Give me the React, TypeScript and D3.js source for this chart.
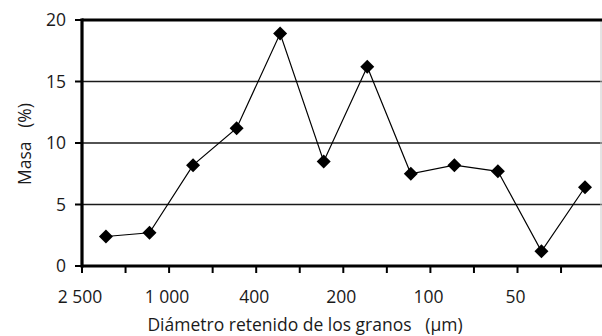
import React from "react";
import * as d3 from "d3";

// Sieve openings (µm) bounding each size fraction; only every other one is labelled
const sieveLabels = ["2 500", "", "1 000", "", "400", "", "200", "", "100", "", "50", "", ""];
// Mass retained in each fraction (%), coarse to fine
const massPct = [2.4, 2.7, 8.2, 11.2, 18.9, 8.5, 16.2, 7.5, 8.2, 7.7, 1.2, 6.4];
const yTicks = [0, 5, 10, 15, 20];

const W = 602;
const H = 336;
const left = 82;
const right = 604.6;
const top = 20;
const bottom = 266;
const FONT = "'Open Sans', 'Noto Sans', sans-serif";
const FS = 17.5;

export default function App() {
  const x = d3.scaleLinear().domain([0, sieveLabels.length - 1]).range([left, right]);
  const y = d3.scaleLinear().domain([0, 20]).range([bottom, top]);
  const px = (i: number) => x(i + 0.55);

  const line = d3
    .line<number>()
    .x((_, i) => px(i))
    .y((d) => y(d));

  // square turned 45° gives an even diamond marker
  const marker = d3.symbol(d3.symbolSquare, 98)() as string;

  return (
    <div style={{ position: "fixed", left: 0, top: 0 }}>
      <svg width={W} height={H} style={{ display: "block", background: "#fff" }}>
        {/* horizontal gridlines */}
        {yTicks.slice(1, -1).map((t) => (
          <line key={t} x1={left} x2={W} y1={y(t)} y2={y(t)} stroke="#1a1a1a" strokeWidth={1.4} />
        ))}
        {/* plot frame */}
        <line x1={601} x2={601} y1={top} y2={bottom} stroke="#c8c8c8" strokeWidth={1} />
        <line x1={left} x2={W} y1={top} y2={top} stroke="#000" strokeWidth={3.2} />
        <line x1={left} x2={left} y1={top - 1.6} y2={bottom + 1.6} stroke="#000" strokeWidth={3.2} />
        <line x1={left} x2={W} y1={bottom} y2={bottom} stroke="#000" strokeWidth={3.2} />

        {/* y ticks and labels */}
        {yTicks.map((t) => (
          <g key={t}>
            <line x1={left - 7} x2={left} y1={y(t)} y2={y(t)} stroke="#000" strokeWidth={2} />
            <text
              x={66}
              y={y(t)}
              dy="0.36em"
              textAnchor="end"
              fontFamily={FONT}
              fontSize={FS}
              fill="#1a1a1a"
            >
              {t}
            </text>
          </g>
        ))}

        {/* x ticks and sieve labels */}
        {sieveLabels.map((lab, i) => (
          <g key={i}>
            <line x1={x(i)} x2={x(i)} y1={bottom} y2={bottom + 7} stroke="#000" strokeWidth={2} />
            {lab && (
              <text
                x={x(i) - 2}
                y={303}
                textAnchor="middle"
                fontFamily={FONT}
                fontSize={FS}
                fill="#1a1a1a"
              >
                {lab}
              </text>
            )}
          </g>
        ))}

        {/* mass distribution line */}
        <path d={line(massPct) as string} fill="none" stroke="#000" strokeWidth={1.2} />
        {massPct.map((v, i) => (
          <path key={i} d={marker} transform={`translate(${px(i)},${y(v)}) rotate(45)`} fill="#000" />
        ))}

        {/* axis titles */}
        <text
          x={305}
          y={331}
          textAnchor="middle"
          fontFamily={FONT}
          fontSize={FS}
          fill="#1a1a1a"
          style={{ whiteSpace: "pre" }}
        >
          {"Diámetro retenido de los granos   (µm)"}
        </text>
        <text
          transform={`translate(31,144) rotate(-90)`}
          textAnchor="middle"
          fontFamily={FONT}
          fontSize={FS}
          fill="#1a1a1a"
          style={{ whiteSpace: "pre" }}
        >
          {"Masa   (%)"}
        </text>
      </svg>
    </div>
  );
}
